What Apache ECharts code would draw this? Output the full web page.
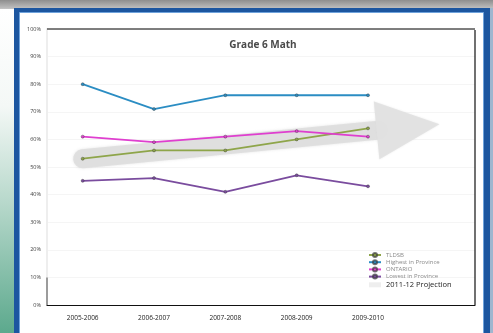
<!DOCTYPE html>
<html>
<head>
<meta charset="utf-8">
<style>
  html, body { margin: 0; padding: 0; background: #fff; }
  #chart { width: 493px; height: 333px; }
</style>
<script src="https://cdn.jsdelivr.net/npm/echarts@6/dist/echarts.min.js"></script>
</head>
<body>
<div id="chart"></div>
<script>
// School years on the x axis (the last slot is left open for the projection)
const years = ['2005-2006', '2006-2007', '2007-2008', '2008-2009', '2009-2010', ''];

// Percent of students at or above the provincial standard
const tldsb = [53, 56, 56, 60, 64];
const highestInProvince = [80, 71, 76, 76, 76];
const ontario = [61, 59, 61, 63, 61];
const lowestInProvince = [45, 46, 41, 47, 43];

// Projection arrow: from the first year's TLDSB result to the projected 2011-12 level
const projectionFrom = [0, 53];
const projectionTo = [5, 65.5];

const yTicks = [0, 10, 20, 30, 40, 50, 60, 70, 80, 90, 100];

const GRID = { left: 47, right: 18, top: 29, bottom: 28 };

const chart = echarts.init(document.getElementById('chart'), null, { renderer: 'canvas' });

function lineSeries(name, data, color) {
  return {
    name: name,
    type: 'line',
    data: data,
    z: 3,
    symbol: 'circle',
    symbolSize: 3,
    showSymbol: true,
    lineStyle: { color: color, width: 1.8 },
    itemStyle: { color: color, borderColor: 'rgba(60,60,60,0.7)', borderWidth: 0.6 },
    animation: false
  };
}

const option = {
  animation: false,
  backgroundColor: '#ffffff',
  title: {
    text: 'Grade 6 Math',
    left: 258,
    top: 35,
    textAlign: 'center',
    textStyle: { fontFamily: 'Open Sans', fontSize: 10, fontWeight: 'bold', color: '#4a4a4a' }
  },
  grid: {
    left: GRID.left, right: GRID.right, top: GRID.top, bottom: GRID.bottom,
    show: false
  },
  legend: {
    orient: 'vertical',
    left: 363,
    top: 247,
    itemGap: 1.2,
    itemWidth: 12,
    itemHeight: 5,
    textStyle: { fontFamily: 'Open Sans', fontSize: 6, color: '#8a8a8a' },
    data: [
      { name: 'TLDSB' },
      { name: 'Highest in Province' },
      { name: 'ONTARIO' },
      { name: 'Lowest in Province' },
      {
        name: '2011-12 Projection',
        icon: 'rect',
        itemStyle: { color: '#eeeeee' },
        textStyle: { fontSize: 7.5, color: '#222' }
      }
    ]
  },
  xAxis: {
    type: 'category',
    data: years,
    boundaryGap: true,
    axisLine: { lineStyle: { color: '#111', width: 1.2 } },
    axisTick: { alignWithLabel: true, length: 2.5, lineStyle: { color: '#333' } },
    axisLabel: { fontFamily: 'Open Sans', fontSize: 6.5, color: '#222', margin: 10 },
    splitLine: { show: false }
  },
  yAxis: {
    type: 'value',
    min: 0,
    max: 100,
    interval: 10,
    axisLine: { show: true, lineStyle: { color: '#eeeeee', width: 2 } },
    axisTick: { show: false },
    axisLabel: {
      fontFamily: 'Open Sans', fontSize: 5.5, color: '#444', margin: 6,
      formatter: function (v) { return yTicks.indexOf(v) >= 0 ? v + '%' : ''; }
    },
    splitLine: { show: true, lineStyle: { color: '#f5f5f5', width: 1 } }
  },
  series: [
    {
      name: '2011-12 Projection',
      type: 'custom',
      z: 1,
      data: [[projectionFrom[0], projectionFrom[1], projectionTo[0], projectionTo[1]]],
      encode: { x: [0, 2], y: [1, 3] },
      itemStyle: { color: '#eeeeee' },
      renderItem: function (params, api) {
        const a = api.coord([api.value(0), api.value(1)]);
        const b = api.coord([api.value(2), api.value(3)]);
        const dx = b[0] - a[0], dy = b[1] - a[1];
        const len = Math.sqrt(dx * dx + dy * dy);
        const ux = dx / len, uy = dy / len;
        const nx = -uy, ny = ux;
        const headLen = 63, headHalf = 29, shaftWidth = 19;
        const base = [b[0] - ux * headLen, b[1] - uy * headLen];
        return {
          type: 'group',
          children: [
            {
              type: 'line',
              shape: { x1: a[0], y1: a[1], x2: base[0] + ux * 2, y2: base[1] + uy * 2 },
              style: {
                stroke: 'rgba(222,222,222,0.9)', lineWidth: shaftWidth, lineCap: 'round',
                shadowBlur: 3, shadowColor: 'rgba(200,200,200,0.5)'
              }
            },
            {
              type: 'polygon',
              shape: {
                points: [
                  [base[0] + nx * headHalf, base[1] + ny * headHalf],
                  [b[0], b[1]],
                  [base[0] - nx * headHalf, base[1] - ny * headHalf]
                ]
              },
              style: { fill: 'rgba(226,226,226,0.95)', shadowBlur: 2, shadowColor: 'rgba(210,210,210,0.5)' }
            }
          ]
        };
      }
    },
    lineSeries('TLDSB', tldsb, '#8ea54a'),
    lineSeries('Highest in Province', highestInProvince, '#2b8dc3'),
    lineSeries('ONTARIO', ontario, '#df3fcf'),
    lineSeries('Lowest in Province', lowestInProvince, '#7a4c9e')
  ]
};

chart.setOption(option);

// Plot borders, page frame, and the dark left edge of the lowest band
const y0 = chart.convertToPixel({ yAxisIndex: 0 }, 0);
const y10 = chart.convertToPixel({ yAxisIndex: 0 }, 10);
const y100 = chart.convertToPixel({ yAxisIndex: 0 }, 100);
const xRight = 493 - GRID.right;

chart.setOption({
  graphic: [
    {
      type: 'rect', z: -10, silent: true,
      shape: { x: 0, y: 0, width: 493, height: 12 },
      style: {
        fill: new echarts.graphic.LinearGradient(0, 0, 0, 1, [
          { offset: 0, color: '#8e8e8e' }, { offset: 0.6, color: '#b8b8b8' }, { offset: 1, color: '#dcdcdc' }
        ])
      }
    },
    {
      type: 'rect', z: -10, silent: true,
      shape: { x: 0, y: 9, width: 15, height: 324 },
      style: {
        fill: new echarts.graphic.LinearGradient(0, 0, 0, 1, [
          { offset: 0, color: '#ffffff' }, { offset: 0.3, color: '#f4f8f6' },
          { offset: 0.6, color: '#b7d8cb' }, { offset: 1, color: '#5ca98d' }
        ])
      }
    },
    {
      type: 'rect', z: -9, silent: true,
      shape: { x: 14, y: 8, width: 476, height: 330 },
      style: { fill: '#1c56a0' }
    },
    {
      type: 'rect', z: -9, silent: true,
      shape: { x: 490, y: 8, width: 3, height: 325 },
      style: { fill: '#9fb6cf' }
    },
    {
      type: 'rect', z: -8, silent: true,
      shape: { x: 19.5, y: 12.5, width: 464, height: 330 },
      style: { fill: '#ffffff', stroke: '#6fa3dc', lineWidth: 1 }
    },
    {
      type: 'line', z: 10, silent: true,
      shape: { x1: GRID.left, y1: y100, x2: xRight, y2: y100 },
      style: { stroke: '#555', lineWidth: 1.3 }
    },
    {
      type: 'line', z: 10, silent: true,
      shape: { x1: xRight, y1: y100 + 1, x2: xRight, y2: y0 },
      style: { stroke: '#111', lineWidth: 1.2 }
    },
    {
      type: 'line', z: 10, silent: true,
      shape: { x1: GRID.left, y1: y10, x2: GRID.left, y2: y0 },
      style: { stroke: '#666', lineWidth: 1.2 }
    }
  ]
});
</script>
</body>
</html>
